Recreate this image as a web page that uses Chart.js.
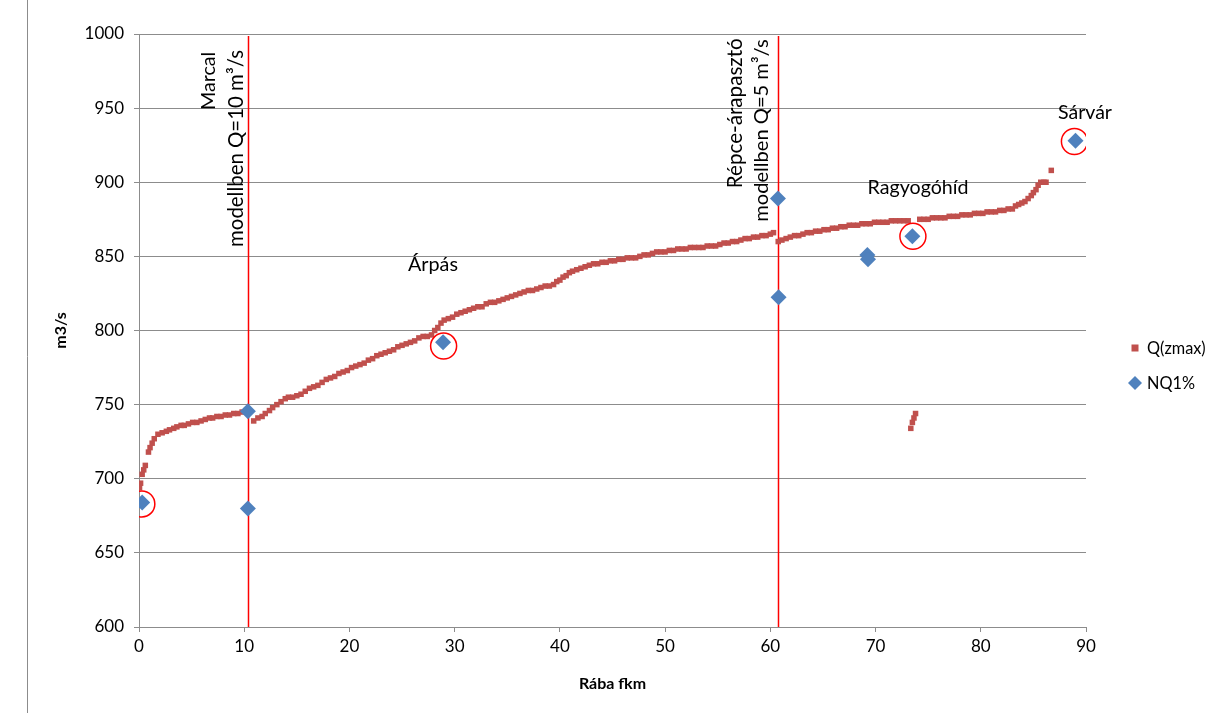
<!DOCTYPE html>
<html><head><meta charset="utf-8">
<script src="https://cdn.jsdelivr.net/npm/chart.js@4.4.0/dist/chart.umd.min.js"></script>
<style>html,body{margin:0;padding:0;background:#fff}#wrap{position:relative;width:1212px;height:713px}canvas{display:block}</style>
</head><body><div id="wrap"><canvas id="c" width="1212" height="713"></canvas></div>
<script>
// ---- data ----
const qKm = [0.05,0.15,0.3,0.45,0.6,0.9,1.05,1.25,1.45,1.8,2.2,2.6,2.9,3.3,3.6,4.0,4.3,4.7,5.1,5.5,5.9,6.3,6.7,7.0,7.4,7.8,8.2,8.6,9.0,9.4,9.8,10.2,
 10.9,11.3,11.7,12.0,12.4,12.7,13.1,13.5,13.9,14.2,14.6,15.0,15.4,15.8,16.2,16.6,17.0,17.4,17.8,18.2,18.6,19.0,19.4,19.8,20.2,20.6,21.0,21.4,21.8,22.2,22.6,23.0,23.4,23.8,24.2,24.6,25.0,25.4,25.8,26.2,26.6,27.0,27.4,27.8,
 28.1,28.4,28.7,29.0,29.4,29.8,30.2,30.6,31.0,31.4,31.8,32.2,32.6,33.0,33.4,33.8,34.2,34.6,35.0,35.4,35.8,36.2,36.6,37.0,37.4,37.8,38.2,38.6,39.0,39.4,39.7,40.0,40.3,40.6,40.9,41.2,41.6,42.0,42.4,42.8,43.2,43.6,44.0,44.4,44.8,45.2,45.6,46.0,46.4,46.8,47.2,47.6,48.0,48.4,48.8,49.2,49.6,50.0,50.4,50.8,51.2,51.6,52.0,52.4,52.8,53.2,53.6,54.0,54.4,54.8,55.2,55.6,56.0,56.4,56.8,57.2,57.6,58.0,58.4,58.8,59.2,59.6,60.0,60.3,
 60.75,61.1,61.5,61.9,62.3,62.7,63.1,63.5,63.9,64.3,64.7,65.1,65.5,65.9,66.3,66.7,67.1,67.5,67.9,68.3,68.7,69.1,69.5,69.9,70.3,70.7,71.1,71.5,71.9,72.3,72.7,73.1,
 74.2,74.6,75.0,75.4,75.8,76.2,76.6,77.0,77.4,77.8,78.2,78.6,79.0,79.4,79.8,80.2,80.6,81.0,81.4,81.8,82.2,82.6,83.0,83.3,83.6,83.9,84.2,84.5,84.8,85.0,85.25,85.45,85.7,86.0,86.2,86.7,
 73.35,73.5,73.65,73.8];
const qVal = [694,697,703,706,709,718,721,724,727,730,731,732,733,734,735,736,736,737,738,738,739,740,741,741,742,742,743,743,744,744,745,746,
 739,741,742,744,746,748,750,752,754,755,755,756,757,759,761,762,763,765,767,768,769,771,772,773,775,776,777,778,780,781,783,784,785,786,787,789,790,791,792,793,795,796,796,797,
 800,802,805,807,808,809,811,812,813,814,815,816,816,818,819,819,820,821,822,823,824,825,826,827,827,828,829,830,830,831,833,834,836,837,839,840,841,842,843,844,845,845,846,846,847,847,848,848,849,849,849,850,851,851,852,853,853,853,854,854,855,855,855,856,856,856,856,857,857,857,858,859,859,860,860,861,862,862,863,863,864,864,865,866,
 860,861,862,863,864,864,865,866,866,867,867,868,868,869,869,870,870,871,871,871,872,872,872,873,873,873,873,874,874,874,874,874,
 875,875,875,876,876,876,876,877,877,877,878,878,878,879,879,879,880,880,880,881,881,882,882,884,885,886,887,889,891,893,895,898,900,900,900,908,
 734,738,741,744];
const nqKm  = [0.3, 10.35, 10.35, 28.9, 60.72, 60.78, 69.22, 69.28, 73.5, 89.0];
const nqVal = [684, 745.5, 680, 792, 889, 822.4, 851, 848, 863.5, 928];
const circleKm  = [0.27, 28.95, 73.55, 88.9];
const circleVal = [683, 789.5, 863.5, 927.5];
const xTicks = [0,10,20,30,40,50,60,70,80,90];
const yTicks = [600,650,700,750,800,850,900,950,1000];
const seriesNames = ['Q(zmax)','NQ1%'];
const axisTitles = {x:'Rába fkm', y:'m3/s'};
const vLineKm = [10.33, 60.7];
// rotated notes: text, km of baseline, value of text end (top)
const noteText = ['Marcal','modellben Q=10 m³/s','Répce-árapasztó','modellben Q=5 m³/s'];
const noteKm   = [7.22, 9.91, 57.28, 59.81];
const noteVal  = [988.0, 989.2, 997.1, 996.4];
// place labels: text, km, value (baseline)
const placeText = ['Árpás','Ragyogóhíd','Sárvár'];
const placeKm   = [27.94, 74.04, 87.34];
const placeVal  = [840.1, 892.1, 942.7];

// ---- styles ----
const FAMILY = 'Lato, "Open Sans", sans-serif';
const RED = '#C0504D', BLUE = '#4F81BD', GRID = '#8c8c8c';
const noteWidths = [58.3, 197, 150, 182.4];
const placeWidths = [50, 101, 54];
const placeAlign = ['center','center','left'];
const mctx = document.createElement('canvas').getContext('2d');
function fitSize(text, width, weight){ mctx.font = (weight||'normal')+' 100px '+FAMILY; return 100*width/mctx.measureText(text).width; }
const legendSize = fitSize('NQ1%', 48);

const zip = (a,b)=>a.map((v,i)=>({x:v,y:b[i]}));

const annot = {
  id:'annot',
  beforeDatasetsDraw(chart){
    const {ctx, chartArea:a, scales:{x}} = chart;
    ctx.save();
    ctx.strokeStyle = '#FF0000'; ctx.lineWidth = 1.5;
    vLineKm.forEach(k=>{ const px = Math.round(x.getPixelForValue(k))+0.5; ctx.beginPath(); ctx.moveTo(px, a.top+2); ctx.lineTo(px, a.bottom); ctx.stroke(); });
    ctx.restore();
  },
  afterDatasetsDraw(chart){
    const {ctx, scales:{x,y}} = chart;
    ctx.save();
    ctx.fillStyle = '#000';
    noteText.forEach((t,i)=>{
      const s = fitSize(t, noteWidths[i]);
      ctx.font = 'normal '+s.toFixed(2)+'px '+FAMILY;
      ctx.save();
      ctx.translate(x.getPixelForValue(noteKm[i]), y.getPixelForValue(noteVal[i]));
      ctx.rotate(-Math.PI/2);
      ctx.textAlign = 'right'; ctx.textBaseline = 'alphabetic';
      ctx.fillText(t, 0, 0);
      ctx.restore();
    });
    placeText.forEach((t,i)=>{
      const s = fitSize(t, placeWidths[i]);
      ctx.font = 'normal '+s.toFixed(2)+'px '+FAMILY;
      ctx.textAlign = placeAlign[i]; ctx.textBaseline = 'alphabetic';
      ctx.fillText(t, x.getPixelForValue(placeKm[i]), y.getPixelForValue(placeVal[i]));
    });
    ctx.restore();
  },
  afterDraw(chart){
    const {ctx} = chart;
    ctx.save();
    ctx.strokeStyle = '#8c8c8c'; ctx.lineWidth = 1;
    ctx.beginPath(); ctx.moveTo(27.5, 0); ctx.lineTo(27.5, 713); ctx.stroke();
    const lx = 1135, ly = [348, 383];
    ctx.fillStyle = RED; ctx.fillRect(lx-3.5, ly[0]-3.5, 7, 7);
    ctx.fillStyle = BLUE; ctx.beginPath(); ctx.moveTo(lx, ly[1]-7); ctx.lineTo(lx+7, ly[1]); ctx.lineTo(lx, ly[1]+7); ctx.lineTo(lx-7, ly[1]); ctx.closePath(); ctx.fill();
    ctx.fillStyle = '#000'; ctx.font = 'normal '+legendSize.toFixed(2)+'px '+FAMILY;
    ctx.textAlign = 'left'; ctx.textBaseline = 'middle';
    seriesNames.forEach((n,i)=>ctx.fillText(n, 1147, ly[i]+1));
    ctx.restore();
  }
};

new Chart(document.getElementById('c'), {
  type:'scatter',
  data:{ datasets:[
    {label:seriesNames[0], data:zip(qKm,qVal), pointStyle:'rect', pointRadius:3.9, pointHoverRadius:3.9, backgroundColor:RED, borderColor:RED, borderWidth:0, order:3},
    {label:seriesNames[1], data:zip(nqKm,nqVal), pointStyle:'rectRot', pointRadius:8, pointHoverRadius:8, backgroundColor:BLUE, borderColor:BLUE, borderWidth:0, order:2},
    {label:'circles', data:zip(circleKm,circleVal), pointStyle:'circle', pointRadius:13, pointHoverRadius:13, backgroundColor:'rgba(0,0,0,0)', borderColor:'#FF0000', borderWidth:1.5, order:1}
  ]},
  options:{
    responsive:false, animation:false, devicePixelRatio:1,
    layout:{padding:{left:27, top:34, right:126, bottom:0}},
    plugins:{legend:{display:false}, tooltip:{enabled:false}},
    scales:{
      x:{type:'linear', min:0, max:90,
        afterBuildTicks(s){ s.ticks = xTicks.map(v=>({value:v})); },
        afterFit(s){ s.height = 86; },
        grid:{drawOnChartArea:false, drawTicks:true, tickLength:5, color:GRID},
        border:{color:GRID, width:1},
        ticks:{color:'#000', font:{family:FAMILY, size:17}, padding:4, maxRotation:0, callback:v=>String(v)},
        title:{display:true, text:axisTitles.x, color:'#000', font:{family:FAMILY, size:16, weight:'bold'}, padding:{top:0,bottom:20}}
      },
      y:{type:'linear', min:600, max:1000,
        afterBuildTicks(s){ s.ticks = yTicks.map(v=>({value:v})); },
        afterFit(s){ s.width = 112; },
        grid:{drawOnChartArea:true, drawTicks:true, tickLength:5, color:GRID},
        border:{color:GRID, width:1},
        ticks:{color:'#000', font:{family:FAMILY, size:17}, padding:10, callback:v=>String(v)},
        title:{display:true, text:axisTitles.y, color:'#000', font:{family:FAMILY, size:16, weight:'bold'}, padding:{top:24,bottom:0}}
      }
    }
  },
  plugins:[annot]
});
</script></body></html>
